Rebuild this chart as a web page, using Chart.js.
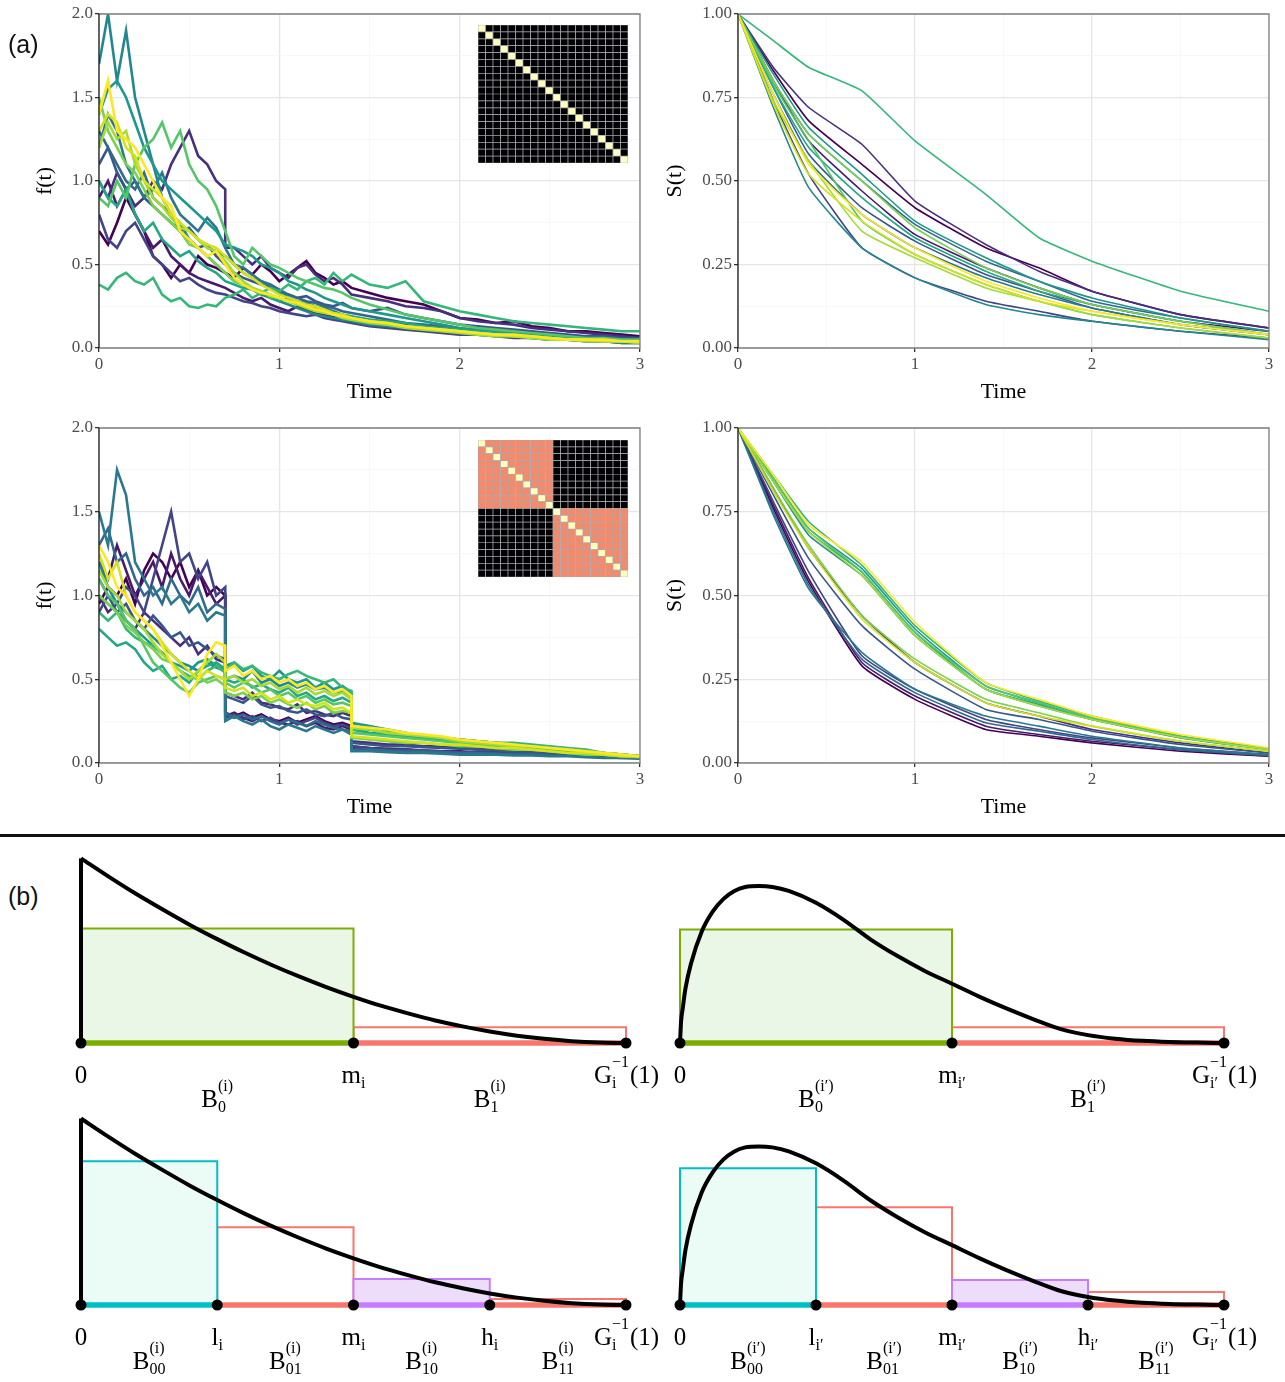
<!DOCTYPE html>
<html>
<head>
<meta charset="utf-8">
<script src="https://cdn.jsdelivr.net/npm/chart.js@4.4.1/dist/chart.umd.min.js"></script>
<style>
body{margin:0;background:#fff;width:1285px;height:1382px;position:relative;overflow:hidden;font-family:"Liberation Sans",Arial,sans-serif;}
canvas{position:absolute;}
.tag{position:absolute;font-size:25px;color:#111;z-index:5;}
#divider{position:absolute;left:0;top:834px;width:1285px;height:3px;background:#111;}
</style>
</head>
<body>

<canvas id="fTop"    width="630" height="410" style="left:20px;top:0px"></canvas>
<canvas id="sTop"    width="624" height="410" style="left:655px;top:0px"></canvas>
<canvas id="fBottom" width="630" height="411" style="left:20px;top:414px"></canvas>
<canvas id="sBottom" width="624" height="411" style="left:655px;top:414px"></canvas>
<canvas id="heatTop"    width="150" height="138" style="left:478px;top:25px"></canvas>
<canvas id="heatBottom" width="150" height="137" style="left:478px;top:440px"></canvas>

<div id="divider"></div>

<canvas id="b1" width="600" height="290" style="left:60px;top:840px"></canvas>
<canvas id="b2" width="625" height="290" style="left:660px;top:840px"></canvas>
<canvas id="b3" width="600" height="282" style="left:60px;top:1100px"></canvas>
<canvas id="b4" width="625" height="282" style="left:660px;top:1100px"></canvas>

<div class="tag" style="left:8px;top:30px">(a)</div>
<div class="tag" style="left:8px;top:882px">(b)</div>

<script>
/* =========================================
   Survival curves + bin partition figure
   ========================================= */

const SERIF = "'Liberation Serif','DejaVu Serif',serif";

/* -------------------------------------------
   DATA — panel (a)
   ------------------------------------------- */

// time grid for the f(t) paths (0.7 and 1.4 repeated for the jumps)
const tF = [0,0.05,0.1,0.15,0.2,0.25,0.3,0.35,0.4,0.45,0.5,0.55,0.6,0.65,0.7,
            0.7,0.75,0.8,0.85,0.9,0.95,1,1.05,1.1,1.15,1.2,1.25,1.3,1.35,1.4,
            1.4,1.5,1.6,1.7,1.8,1.9,2,2.1,2.2,2.3,2.4,2.5,2.6,2.7,2.8,2.9,3];

// time grid for S(t)
const tS = [0,0.2,0.4,0.7,1,1.4,1.7,2,2.5,3];

const viridis = ["#440154","#481A6C","#472F7D","#414487","#39568C","#31688E","#2A788E","#23888E",
                 "#1F988B","#22A884","#35B779","#54C568","#7AD151","#A5DB36","#D2E21B","#FDE725"];

const fTop = [
 [0.7,0.62,0.75,0.9,0.8,0.7,0.55,0.5,0.42,0.5,0.45,0.55,0.5,0.48,0.45, 0.45,0.42,0.48,0.44,0.5,0.46,0.4,0.44,0.48,0.52,0.45,0.42,0.38,0.4,0.36, 0.36,0.33,0.3,0.28,0.26,0.22,0.18,0.17,0.15,0.16,0.13,0.12,0.1,0.1,0.09,0.08,0.07],
 [0.9,1.0,0.85,0.95,0.8,0.7,0.6,0.65,0.55,0.5,0.45,0.42,0.4,0.38,0.36, 0.36,0.33,0.3,0.28,0.3,0.26,0.24,0.22,0.25,0.23,0.21,0.2,0.19,0.18,0.17, 0.17,0.15,0.14,0.13,0.12,0.1,0.09,0.09,0.08,0.07,0.07,0.06,0.05,0.05,0.05,0.04,0.04],
 [1.0,0.9,1.05,0.95,0.85,0.9,1.0,0.95,1.1,1.2,1.3,1.15,1.1,1.0,0.95, 0.6,0.6,0.55,0.5,0.55,0.48,0.45,0.42,0.48,0.5,0.44,0.4,0.42,0.38,0.32, 0.32,0.3,0.28,0.25,0.24,0.22,0.18,0.16,0.15,0.14,0.12,0.11,0.1,0.09,0.08,0.07,0.06],
 [0.8,0.65,0.6,0.7,0.75,0.65,0.55,0.5,0.45,0.4,0.42,0.38,0.35,0.33,0.32, 0.32,0.3,0.28,0.27,0.25,0.24,0.22,0.21,0.2,0.19,0.2,0.18,0.17,0.16,0.15, 0.15,0.13,0.12,0.11,0.1,0.09,0.08,0.08,0.07,0.06,0.06,0.05,0.05,0.04,0.04,0.03,0.03],
 [1.1,1.2,1.05,0.95,1.0,0.9,0.85,0.8,0.75,0.7,0.65,0.6,0.62,0.55,0.5, 0.5,0.45,0.42,0.4,0.38,0.36,0.33,0.32,0.3,0.31,0.28,0.26,0.25,0.27,0.24, 0.24,0.22,0.24,0.2,0.18,0.16,0.14,0.13,0.12,0.11,0.1,0.09,0.08,0.07,0.07,0.06,0.06],
 [1.3,1.2,1.1,1.0,0.95,1.05,0.9,0.85,0.8,0.7,0.72,0.65,0.6,0.58,0.55, 0.55,0.5,0.45,0.42,0.4,0.38,0.35,0.32,0.3,0.28,0.27,0.25,0.24,0.22,0.21, 0.21,0.19,0.17,0.15,0.14,0.13,0.11,0.1,0.09,0.08,0.08,0.07,0.06,0.05,0.05,0.04,0.04],
 [1.2,1.4,1.3,1.1,1.0,0.9,0.95,1.05,0.9,0.8,0.75,0.7,0.78,0.72,0.6, 0.6,0.5,0.48,0.44,0.4,0.37,0.34,0.3,0.28,0.27,0.25,0.24,0.22,0.2,0.18, 0.18,0.16,0.15,0.14,0.12,0.11,0.1,0.09,0.08,0.07,0.07,0.06,0.05,0.05,0.04,0.04,0.03],
 [1.7,2.0,1.6,1.9,1.5,1.3,1.1,0.9,0.8,0.75,0.65,0.6,0.55,0.5,0.45, 0.45,0.4,0.38,0.35,0.32,0.3,0.28,0.26,0.24,0.22,0.2,0.19,0.18,0.17,0.16, 0.16,0.14,0.13,0.12,0.11,0.1,0.09,0.08,0.07,0.07,0.06,0.05,0.05,0.04,0.04,0.03,0.03],
 [1.4,1.55,1.6,1.5,1.35,1.2,1.1,1.0,0.95,0.9,0.85,0.8,0.75,0.7,0.62, 0.62,0.6,0.58,0.55,0.5,0.48,0.45,0.4,0.38,0.35,0.33,0.3,0.28,0.26,0.24, 0.24,0.22,0.2,0.18,0.16,0.14,0.12,0.11,0.1,0.09,0.08,0.07,0.06,0.06,0.05,0.05,0.04],
 [1.0,0.9,0.85,0.95,0.8,0.7,0.75,0.65,0.6,0.55,0.58,0.52,0.48,0.45,0.4, 0.4,0.38,0.36,0.35,0.33,0.3,0.28,0.3,0.27,0.25,0.24,0.22,0.21,0.2,0.19, 0.19,0.17,0.16,0.15,0.13,0.12,0.11,0.1,0.09,0.08,0.07,0.06,0.06,0.05,0.05,0.04,0.04],
 [0.38,0.35,0.42,0.45,0.4,0.38,0.42,0.32,0.28,0.3,0.25,0.24,0.26,0.25,0.3, 0.3,0.32,0.35,0.3,0.33,0.36,0.34,0.38,0.35,0.4,0.42,0.38,0.45,0.4,0.44, 0.44,0.38,0.36,0.4,0.28,0.25,0.22,0.2,0.18,0.16,0.15,0.14,0.13,0.12,0.11,0.1,0.1],
 [0.9,0.85,1.0,0.9,1.1,1.2,1.25,1.35,1.2,1.3,1.1,1.0,0.95,0.85,0.7, 0.7,0.55,0.5,0.6,0.55,0.5,0.48,0.45,0.42,0.4,0.38,0.36,0.35,0.33,0.3, 0.3,0.26,0.23,0.2,0.18,0.16,0.14,0.12,0.11,0.1,0.09,0.08,0.07,0.06,0.06,0.05,0.05],
 [1.5,1.3,1.2,1.1,1.05,0.95,0.85,0.8,0.75,0.7,0.62,0.6,0.55,0.5,0.45, 0.45,0.4,0.38,0.36,0.34,0.32,0.3,0.28,0.26,0.25,0.24,0.22,0.2,0.19,0.18, 0.18,0.16,0.14,0.13,0.12,0.11,0.1,0.09,0.08,0.07,0.06,0.06,0.05,0.05,0.04,0.04,0.03],
 [1.2,1.35,1.25,1.3,1.1,1.0,0.9,0.85,0.78,0.72,0.7,0.65,0.6,0.58,0.52, 0.52,0.45,0.4,0.36,0.34,0.31,0.3,0.28,0.26,0.24,0.22,0.21,0.2,0.18,0.17, 0.17,0.15,0.14,0.12,0.11,0.1,0.09,0.08,0.07,0.07,0.06,0.05,0.05,0.04,0.04,0.04,0.03],
 [1.3,1.4,1.35,1.2,1.15,1.0,0.95,0.9,0.8,0.75,0.7,0.65,0.62,0.6,0.55, 0.55,0.5,0.45,0.42,0.38,0.35,0.32,0.3,0.28,0.26,0.25,0.23,0.21,0.2,0.18, 0.18,0.16,0.15,0.13,0.12,0.11,0.1,0.09,0.08,0.07,0.07,0.06,0.05,0.05,0.04,0.04,0.04],
 [1.4,1.6,1.3,1.25,1.2,1.1,1.0,0.9,0.85,0.7,0.65,0.6,0.55,0.58,0.5, 0.5,0.42,0.38,0.35,0.33,0.32,0.3,0.28,0.27,0.25,0.23,0.22,0.2,0.19,0.18, 0.18,0.16,0.15,0.13,0.12,0.11,0.1,0.09,0.08,0.08,0.07,0.06,0.05,0.05,0.05,0.04,0.04]
];

const fBottom = [
 [0.95,1.05,1.0,1.1,0.95,1.15,1.25,1.2,1.1,1.2,1.05,1.15,1.0,1.05,1.0, 0.3,0.28,0.3,0.27,0.29,0.26,0.25,0.27,0.24,0.26,0.28,0.25,0.23,0.24,0.22, 0.1,0.09,0.085,0.08,0.075,0.07,0.07,0.06,0.065,0.06,0.055,0.05,0.05,0.045,0.04,0.035,0.03],
 [1.2,1.1,1.3,1.15,1.0,1.1,1.2,1.05,1.25,1.1,1.0,1.15,1.05,0.95,1.0, 0.28,0.3,0.27,0.25,0.28,0.26,0.24,0.23,0.25,0.22,0.24,0.21,0.2,0.22,0.2, 0.09,0.085,0.08,0.08,0.07,0.07,0.065,0.06,0.06,0.055,0.05,0.05,0.045,0.04,0.04,0.035,0.03],
 [1.0,0.9,0.95,0.85,0.8,0.9,0.85,0.8,0.75,0.7,0.75,0.65,0.7,0.62,0.6, 0.42,0.4,0.38,0.42,0.36,0.35,0.33,0.32,0.35,0.3,0.31,0.29,0.28,0.3,0.28, 0.13,0.12,0.11,0.11,0.1,0.1,0.09,0.085,0.08,0.075,0.07,0.065,0.06,0.05,0.05,0.04,0.035],
 [0.9,1.0,0.95,1.05,1.0,0.9,1.1,1.3,1.5,1.2,1.25,1.1,1.2,1.0,1.05, 0.27,0.29,0.26,0.28,0.25,0.27,0.24,0.26,0.23,0.25,0.27,0.24,0.22,0.23,0.21, 0.1,0.09,0.08,0.08,0.075,0.07,0.065,0.065,0.06,0.06,0.055,0.05,0.05,0.045,0.04,0.035,0.03],
 [1.1,1.0,0.9,0.95,0.85,0.8,0.88,0.82,0.75,0.78,0.7,0.72,0.68,0.64,0.62, 0.4,0.38,0.36,0.4,0.35,0.33,0.34,0.31,0.3,0.32,0.29,0.28,0.3,0.27,0.26, 0.12,0.11,0.1,0.1,0.095,0.09,0.085,0.08,0.075,0.07,0.065,0.06,0.055,0.05,0.045,0.04,0.035],
 [1.3,1.4,1.2,1.25,1.1,1.0,1.05,0.95,1.1,1.0,0.95,1.05,0.9,0.95,0.92, 0.3,0.27,0.29,0.26,0.28,0.25,0.23,0.26,0.24,0.22,0.25,0.23,0.21,0.2,0.19, 0.08,0.08,0.075,0.07,0.07,0.065,0.06,0.06,0.055,0.05,0.05,0.045,0.045,0.04,0.035,0.03,0.03],
 [1.5,1.3,1.75,1.6,1.2,1.1,1.0,1.05,0.95,1.0,0.9,0.95,0.85,0.9,0.88, 0.25,0.28,0.25,0.23,0.26,0.22,0.2,0.23,0.21,0.19,0.22,0.2,0.18,0.2,0.17, 0.07,0.07,0.065,0.06,0.06,0.055,0.05,0.05,0.05,0.045,0.045,0.04,0.04,0.035,0.03,0.03,0.025],
 [1.2,1.05,0.95,0.9,0.85,0.8,0.75,0.7,0.65,0.6,0.58,0.55,0.6,0.57,0.55, 0.5,0.52,0.5,0.55,0.48,0.5,0.46,0.48,0.45,0.47,0.44,0.45,0.42,0.43,0.4, 0.22,0.2,0.18,0.17,0.16,0.15,0.14,0.13,0.12,0.11,0.1,0.09,0.08,0.07,0.06,0.05,0.04],
 [1.0,0.95,0.9,0.85,0.8,0.75,0.7,0.66,0.6,0.58,0.55,0.6,0.62,0.58,0.55, 0.58,0.6,0.55,0.58,0.52,0.5,0.55,0.5,0.48,0.5,0.45,0.48,0.44,0.46,0.42, 0.24,0.22,0.2,0.18,0.16,0.15,0.14,0.13,0.12,0.11,0.1,0.09,0.08,0.07,0.06,0.05,0.04],
 [0.8,0.75,0.7,0.72,0.68,0.6,0.55,0.58,0.5,0.52,0.48,0.55,0.58,0.6,0.56, 0.5,0.48,0.5,0.45,0.47,0.44,0.42,0.45,0.4,0.42,0.38,0.4,0.37,0.39,0.36, 0.2,0.18,0.17,0.16,0.15,0.14,0.13,0.12,0.11,0.1,0.09,0.08,0.07,0.06,0.05,0.05,0.04],
 [0.9,0.85,0.9,0.8,0.75,0.72,0.7,0.65,0.6,0.55,0.52,0.5,0.55,0.58,0.54, 0.55,0.6,0.56,0.58,0.54,0.52,0.5,0.53,0.55,0.52,0.5,0.48,0.5,0.45,0.43, 0.2,0.2,0.19,0.17,0.16,0.15,0.14,0.13,0.12,0.12,0.11,0.1,0.09,0.08,0.06,0.05,0.04],
 [1.1,1.0,0.95,0.85,0.8,0.7,0.6,0.55,0.5,0.45,0.42,0.48,0.5,0.52,0.5, 0.48,0.45,0.48,0.46,0.42,0.44,0.4,0.42,0.38,0.4,0.36,0.38,0.35,0.36,0.34, 0.18,0.17,0.16,0.15,0.14,0.13,0.12,0.11,0.1,0.1,0.09,0.08,0.07,0.06,0.05,0.04,0.04],
 [1.0,0.95,0.9,0.82,0.78,0.72,0.68,0.62,0.6,0.55,0.5,0.52,0.48,0.5,0.46, 0.42,0.4,0.42,0.38,0.4,0.36,0.38,0.35,0.33,0.36,0.32,0.34,0.3,0.31,0.3, 0.15,0.14,0.13,0.12,0.12,0.11,0.1,0.1,0.09,0.08,0.08,0.07,0.06,0.05,0.05,0.04,0.035],
 [1.15,1.05,1.0,0.9,0.85,0.8,0.72,0.65,0.6,0.55,0.5,0.55,0.6,0.65,0.6, 0.5,0.52,0.48,0.5,0.46,0.48,0.44,0.46,0.42,0.45,0.41,0.43,0.4,0.42,0.38, 0.21,0.2,0.18,0.17,0.16,0.15,0.13,0.12,0.11,0.1,0.1,0.09,0.08,0.07,0.06,0.05,0.04],
 [1.25,1.1,1.2,1.0,0.9,0.85,0.8,0.72,0.65,0.6,0.55,0.5,0.55,0.52,0.5, 0.45,0.43,0.45,0.4,0.42,0.38,0.4,0.36,0.38,0.35,0.34,0.36,0.32,0.33,0.3, 0.16,0.15,0.14,0.13,0.12,0.11,0.11,0.1,0.09,0.09,0.08,0.07,0.06,0.06,0.05,0.04,0.04],
 [1.3,1.2,1.05,1.0,0.9,0.85,0.8,0.7,0.6,0.5,0.4,0.5,0.65,0.72,0.7, 0.55,0.58,0.52,0.55,0.5,0.52,0.48,0.5,0.46,0.48,0.44,0.46,0.42,0.44,0.4, 0.22,0.21,0.2,0.18,0.17,0.16,0.14,0.13,0.12,0.11,0.1,0.09,0.08,0.07,0.06,0.05,0.04]
];

const sTop = [
 [1,0.83,0.68,0.55,0.42,0.30,0.24,0.17,0.10,0.06],
 [1,0.80,0.62,0.47,0.34,0.24,0.18,0.13,0.08,0.05],
 [1,0.84,0.72,0.61,0.44,0.31,0.23,0.17,0.10,0.06],
 [1,0.74,0.52,0.30,0.21,0.14,0.11,0.08,0.05,0.03],
 [1,0.78,0.58,0.42,0.32,0.22,0.17,0.12,0.07,0.04],
 [1,0.80,0.64,0.50,0.37,0.26,0.20,0.14,0.09,0.05],
 [1,0.76,0.56,0.40,0.30,0.21,0.16,0.12,0.07,0.04],
 [1,0.72,0.48,0.30,0.21,0.13,0.10,0.08,0.05,0.025],
 [1,0.82,0.66,0.52,0.38,0.27,0.20,0.15,0.09,0.05],
 [1,0.78,0.60,0.45,0.33,0.23,0.17,0.13,0.08,0.04],
 [1,0.92,0.84,0.77,0.62,0.46,0.33,0.26,0.17,0.11],
 [1,0.79,0.62,0.38,0.28,0.19,0.14,0.10,0.06,0.03],
 [1,0.80,0.64,0.50,0.36,0.24,0.18,0.13,0.08,0.04],
 [1,0.74,0.56,0.35,0.27,0.18,0.14,0.10,0.06,0.03],
 [1,0.73,0.52,0.38,0.28,0.19,0.14,0.11,0.07,0.04],
 [1,0.76,0.55,0.40,0.30,0.20,0.15,0.11,0.07,0.04]
];

const sBottom = [
 [1,0.76,0.54,0.29,0.19,0.10,0.08,0.06,0.035,0.02],
 [1,0.77,0.55,0.30,0.20,0.11,0.085,0.065,0.04,0.02],
 [1,0.82,0.64,0.44,0.30,0.18,0.14,0.10,0.06,0.03],
 [1,0.78,0.57,0.32,0.22,0.13,0.10,0.075,0.045,0.025],
 [1,0.80,0.61,0.41,0.28,0.16,0.13,0.095,0.055,0.03],
 [1,0.75,0.53,0.31,0.21,0.12,0.095,0.07,0.04,0.022],
 [1,0.74,0.52,0.33,0.22,0.14,0.11,0.08,0.045,0.025],
 [1,0.84,0.68,0.56,0.38,0.22,0.17,0.13,0.075,0.04],
 [1,0.85,0.70,0.58,0.40,0.23,0.18,0.135,0.08,0.042],
 [1,0.84,0.69,0.57,0.39,0.22,0.175,0.13,0.078,0.04],
 [1,0.86,0.72,0.59,0.41,0.24,0.185,0.14,0.08,0.042],
 [1,0.85,0.70,0.57,0.39,0.23,0.18,0.135,0.078,0.04],
 [1,0.82,0.65,0.44,0.31,0.19,0.15,0.11,0.065,0.035],
 [1,0.84,0.69,0.56,0.38,0.22,0.17,0.13,0.076,0.04],
 [1,0.81,0.64,0.43,0.30,0.18,0.14,0.11,0.065,0.035],
 [1,0.86,0.71,0.60,0.42,0.24,0.19,0.14,0.085,0.045]
];

// correlation insets: block id of each of the 20 units, and cell levels
const blocksTop    = [0,0,0,0,0,0,0,0,0,0,0,0,0,0,0,0,0,0,0,0];
const blocksBottom = [0,0,0,0,0,0,0,0,0,0,1,1,1,1,1,1,1,1,1,1];
const withinTop = 0, withinBottom = 0.75;
const heatColors = {0:"#000004", 0.75:"#F5896B", 1:"#FCFDBF"};


/* -------------------------------------------
   DATA — panel (b)
   ------------------------------------------- */

// decreasing density (left column)
const curveX1 = [0,0.05,0.1,0.15,0.2,0.25,0.3,0.35,0.4,0.45,0.5,0.55,0.6,0.65,0.7,0.75,0.8,0.85,0.9,0.95,1];
const curveY1 = [0.935,0.844,0.757,0.676,0.598,0.526,0.458,0.395,0.337,0.283,0.234,0.189,0.15,0.114,0.084,0.058,0.037,0.021,0.009,0.002,0];

// humped density (right column)
const curveX2 = [0,0.002,0.005,0.01,0.02,0.04,0.06,0.08,0.1,0.12,0.145,0.17,0.2,0.25,0.3,0.35,0.4,0.45,0.5,0.55,0.6,0.65,0.7,0.75,0.8,0.85,0.9,0.95,1];
const curveY2 = [0,0.11,0.175,0.275,0.4,0.565,0.665,0.73,0.77,0.79,0.795,0.79,0.77,0.71,0.625,0.525,0.44,0.365,0.3,0.235,0.175,0.12,0.07,0.04,0.022,0.011,0.005,0.002,0];

const edgesHalf    = [0,0.5,1];
const edgesQuarter = [0,0.25,0.5,0.75,1];

const heightsB1 = [0.58,0.08];
const heightsB2 = [0.575,0.08];
const heightsB3 = [0.72,0.39,0.13,0.03];
const heightsB4 = [0.685,0.49,0.125,0.065];

const RED = "#F8766D", GREEN = "#7CAE00", CYAN = "#00BFC4", PURPLE = "#C77CFF";
const colorsHalf    = [GREEN, RED];
const fillsHalf     = ["#EAF7E6", null];
const colorsQuarter = [CYAN, RED, PURPLE, RED];
const fillsQuarter  = ["#EBFCF6", null, "#EEDDFA", null];

const edgeText1 = [{b:"0"},{b:"m",sub:"i"},{b:"G",sub:"i",sup:"−1",tail:"(1)"}];
const binText1  = [{b:"B",sub:"0",sup:"(i)"},{b:"B",sub:"1",sup:"(i)"}];
const edgeText2 = [{b:"0"},{b:"m",sub:"i′"},{b:"G",sub:"i′",sup:"−1",tail:"(1)"}];
const binText2  = [{b:"B",sub:"0",sup:"(i′)"},{b:"B",sub:"1",sup:"(i′)"}];
const edgeText3 = [{b:"0"},{b:"l",sub:"i"},{b:"m",sub:"i"},{b:"h",sub:"i"},{b:"G",sub:"i",sup:"−1",tail:"(1)"}];
const binText3  = [{b:"B",sub:"00",sup:"(i)"},{b:"B",sub:"01",sup:"(i)"},{b:"B",sub:"10",sup:"(i)"},{b:"B",sub:"11",sup:"(i)"}];
const edgeText4 = [{b:"0"},{b:"l",sub:"i′"},{b:"m",sub:"i′"},{b:"h",sub:"i′"},{b:"G",sub:"i′",sup:"−1",tail:"(1)"}];
const binText4  = [{b:"B",sub:"00",sup:"(i′)"},{b:"B",sub:"01",sup:"(i′)"},{b:"B",sub:"10",sup:"(i′)"},{b:"B",sub:"11",sup:"(i′)"}];


/* -------------------------------------------
   HELPERS
   ------------------------------------------- */

function isMajor(v, step){
  const q = v/step;
  return Math.abs(q - Math.round(q)) < 1e-6;
}

// ggplot-like frame: grey top/right/bottom, black left
const framePlugin = {
  id:"frame",
  afterDraw(chart){
    const {ctx, chartArea:a} = chart;
    ctx.save();
    ctx.strokeStyle = "#808080";
    ctx.lineWidth = 1.3;
    ctx.beginPath();
    ctx.moveTo(a.left, a.bottom); ctx.lineTo(a.right, a.bottom);
    ctx.lineTo(a.right, a.top); ctx.lineTo(a.left, a.top);
    ctx.stroke();
    ctx.strokeStyle = "#1a1a1a";
    ctx.beginPath(); ctx.moveTo(a.left, a.top); ctx.lineTo(a.left, a.bottom); ctx.stroke();
    ctx.restore();
  }
};

function axisOpts(min, max, step, majorStep, digits, title, titlePad, fitSize, horizontal){
  const o = {
    type:"linear", min:min, max:max,
    ticks:{
      stepSize:step, autoSkip:false, maxRotation:0, padding:2,
      color:"#4D4D4D", font:{family:SERIF, size:17},
      callback:(v)=> isMajor(v, majorStep) ? v.toFixed(digits) : ""
    },
    grid:{
      color:(c)=> (c.tick && isMajor(c.tick.value, majorStep)) ? "#E6E6E6" : "#F3F3F3",
      lineWidth:(c)=> (c.tick && isMajor(c.tick.value, majorStep)) ? 1.3 : 0.7,
      tickColor:(c)=> (c.tick && isMajor(c.tick.value, majorStep)) ? "#333" : "rgba(0,0,0,0)",
      tickLength:4
    },
    border:{display:false},
    title:{display:true, text:title, color:"#000", font:{family:SERIF, size:22}, padding:titlePad}
  };
  if(horizontal) o.afterFit = (s)=>{ s.height = fitSize; };
  else o.afterFit = (s)=>{ s.width = fitSize; };
  return o;
}

function curvePanel(id, xs, series, yMax, yStep, yMajor, yDigits, yTitle, yTitlePad, yWidth, lineW, bend){
  const datasets = series.map((vals, i)=>({
    data: xs.map((t,k)=>({x:t, y:vals[k]})),
    borderColor: viridis[i],
    borderWidth: lineW,
    showLine:true,
    pointRadius:0,
    tension:bend,
    order: series.length - 1 - i
  }));
  return new Chart(document.getElementById(id), {
    type:"scatter",
    data:{datasets},
    options:{
      responsive:false, animation:false,
      layout:{padding:{top:14, right:10, left:0, bottom:0}},
      plugins:{legend:{display:false}, tooltip:{enabled:false}},
      scales:{
        x: axisOpts(0, 3, 0.5, 1, 0, "Time", {top:0, bottom:5}, 62, true),
        y: axisOpts(0, yMax, yStep, yMajor, yDigits, yTitle, yTitlePad, yWidth, false)
      }
    },
    plugins:[framePlugin]
  });
}


/* -------------------------------------------
   PANEL (a) — f(t) and S(t)
   ------------------------------------------- */

curvePanel("fTop",    tF, fTop,    2, 0.25, 0.5, 1, "f(t)", {top:12}, 79, 2.6, 0);
curvePanel("fBottom", tF, fBottom, 2, 0.25, 0.5, 1, "f(t)", {top:12}, 79, 2.6, 0);
curvePanel("sTop",    tS, sTop,    1, 0.125, 0.25, 2, "S(t)", {top:7}, 83, 1.6, 0.15);
curvePanel("sBottom", tS, sBottom, 1, 0.125, 0.25, 2, "S(t)", {top:7}, 83, 1.6, 0.15);


/* -------------------------------------------
   CORRELATION INSETS (stacked bars as cells)
   ------------------------------------------- */

function heatPanel(id, blocks, within){
  const n = blocks.length;
  const labels = blocks.map((b,i)=> String(i+1));
  const datasets = [];
  for(let d=0; d<n; d++){
    const r = n - 1 - d;          // row counted from the top
    const level = blocks.map((b,c)=> r===c ? 1 : (blocks[r]===b ? within : 0));
    datasets.push({
      data: level.map(()=>1),
      backgroundColor: level.map(v=> heatColors[v]),
      borderColor:"#A8A8A8",
      borderWidth:0.7,
      borderSkipped:false,
      barPercentage:1,
      categoryPercentage:1
    });
  }
  new Chart(document.getElementById(id), {
    type:"bar",
    data:{labels, datasets},
    options:{
      responsive:false, animation:false,
      layout:{padding:0},
      plugins:{legend:{display:false}, tooltip:{enabled:false}},
      scales:{
        x:{stacked:true, display:false},
        y:{stacked:true, display:false, min:0, max:n}
      }
    }
  });
}

heatPanel("heatTop", blocksTop, withinTop);
heatPanel("heatBottom", blocksBottom, withinBottom);


/* -------------------------------------------
   PANEL (b) — density with bin rectangles
   ------------------------------------------- */

function drawRich(ctx, lab, cx, cy){
  const big = "25px " + SERIF, small = "16px " + SERIF;
  ctx.font = big;
  const wb = ctx.measureText(lab.b).width;
  const wt = lab.tail ? ctx.measureText(lab.tail).width : 0;
  ctx.font = small;
  const ws = lab.sub ? ctx.measureText(lab.sub).width : 0;
  const wp = lab.sup ? ctx.measureText(lab.sup).width : 0;
  const wm = Math.max(ws, wp);
  let x = cx - (wb + wm + wt)/2;
  ctx.fillStyle = "#000";
  ctx.textAlign = "left";
  ctx.textBaseline = "middle";
  ctx.font = big;  ctx.fillText(lab.b, x, cy);
  ctx.font = small;
  if(lab.sub) ctx.fillText(lab.sub, x + wb, cy + 8);
  if(lab.sup) ctx.fillText(lab.sup, x + wb, cy - 13);
  ctx.font = big;
  if(lab.tail) ctx.fillText(lab.tail, x + wb + wm + 1, cy);
}

function labelPlugin(edges, edgeText, binText){
  return {
    id:"binLabels",
    afterDraw(chart){
      const ctx = chart.ctx;
      const xs = chart.scales.x, ys = chart.scales.y;
      const base = ys.getPixelForValue(0);
      ctx.save();
      edges.forEach((e,k)=> drawRich(ctx, edgeText[k], xs.getPixelForValue(e), base + 33));
      for(let k=0; k<edges.length-1; k++){
        const mid = (edges[k] + edges[k+1]) / 2;
        drawRich(ctx, binText[k], xs.getPixelForValue(mid), base + 57);
      }
      ctx.restore();
    }
  };
}

function binPanel(id, cx, cy, stem, edges, heights, colors, fills, edgeText, binText, pad){
  const datasets = [];

  // dots at the bin edges (top)
  datasets.push({
    data: edges.map(e=>({x:e, y:0})),
    pointRadius:5.5, pointBackgroundColor:"#000", pointBorderWidth:0,
    showLine:false, order:0, clip:false
  });

  // density curve
  datasets.push({
    data: cx.map((x,k)=>({x:x, y:cy[k]})),
    showLine:true, borderColor:"#000", borderWidth:4, pointRadius:0,
    cubicInterpolationMode:"monotone", order:1, clip:false
  });
  if(stem){
    datasets.push({
      data:[{x:cx[0], y:0},{x:cx[0], y:cy[0]}],
      showLine:true, borderColor:"#000", borderWidth:4, pointRadius:0, order:1, clip:false
    });
  }

  // thick coloured baseline pieces
  for(let k=0; k<edges.length-1; k++){
    datasets.push({
      data:[{x:edges[k], y:0},{x:edges[k+1], y:0}],
      showLine:true, borderColor:colors[k], borderWidth:5.5, pointRadius:0,
      order:2, clip:false
    });
  }

  // bin rectangles: open red ones behind the filled ones
  for(let k=0; k<edges.length-1; k++){
    const h = heights[k];
    datasets.push({
      data:[{x:edges[k], y:0},{x:edges[k], y:h},{x:edges[k+1], y:h},{x:edges[k+1], y:0}],
      showLine:true, borderColor:colors[k], borderWidth:2, pointRadius:0,
      fill: fills[k] ? "origin" : false,
      backgroundColor: fills[k] || "rgba(0,0,0,0)",
      order: fills[k] ? 3 : 4, clip:false
    });
  }

  new Chart(document.getElementById(id), {
    type:"scatter",
    data:{datasets},
    options:{
      responsive:false, animation:false,
      layout:{padding:pad},
      plugins:{legend:{display:false}, tooltip:{enabled:false}},
      scales:{
        x:{type:"linear", min:0, max:1, display:false},
        y:{type:"linear", min:0, max:1, display:false}
      }
    },
    plugins:[labelPlugin(edges, edgeText, binText)]
  });
}

binPanel("b1", curveX1, curveY1, true,  edgesHalf, heightsB1, colorsHalf, fillsHalf, edgeText1, binText1,
         {left:21, right:34, top:3, bottom:87});
binPanel("b2", curveX2, curveY2, false, edgesHalf, heightsB2, colorsHalf, fillsHalf, edgeText2, binText2,
         {left:20, right:61, top:3, bottom:87});
binPanel("b3", curveX1, curveY1, true,  edgesQuarter, heightsB3, colorsQuarter, fillsQuarter, edgeText3, binText3,
         {left:21, right:34, top:5, bottom:77});
binPanel("b4", curveX2, curveY2, false, edgesQuarter, heightsB4, colorsQuarter, fillsQuarter, edgeText4, binText4,
         {left:20, right:61, top:5, bottom:77});
</script>
</body>
</html>
